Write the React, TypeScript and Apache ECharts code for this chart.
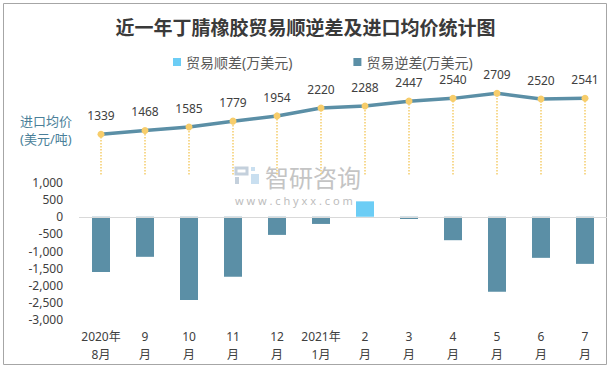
import React, { useEffect, useRef } from "react";
import * as echarts from "echarts";

const categories = [
  "2020年\n8月", "9\n月", "10\n月", "11\n月", "12\n月", "2021年\n1月",
  "2\n月", "3\n月", "4\n月", "5\n月", "6\n月", "7\n月",
];
const surplus: (number | null)[] = [null, null, null, null, null, null, 450, null, null, null, null, null];
const deficit: (number | null)[] = [-1610, -1170, -2430, -1755, -530, -210, null, -65, -685, -2190, -1200, -1376];
const importPrice = [1339, 1468, 1585, 1779, 1954, 2220, 2288, 2447, 2540, 2709, 2520, 2541];

const FONT = "'Noto Sans', 'Noto Sans CJK SC', sans-serif";
const CJK = "'Noto Sans CJK SC', sans-serif";

export default function App() {
  const ref = useRef<HTMLDivElement>(null);
  useEffect(() => {
    document.body.style.margin = "0";
    const chart = echarts.init(ref.current!, null, { renderer: "svg" });
    const gridL = 79;
    const gridR = 4;
    chart.setOption({
      animation: false,
      backgroundColor: "#ffffff",
      title: {
        text: "近一年丁腈橡胶贸易顺逆差及进口均价统计图",
        left: "center",
        top: 12,
        textStyle: { fontFamily: CJK, fontSize: 19, fontWeight: "bold", color: "#3a3a3a" },
      },
      legend: {
        data: ["贸易顺差(万美元)", "贸易逆差(万美元)"],
        left: 168,
        top: 50,
        itemWidth: 8,
        itemHeight: 8,
        itemGap: 61,
        icon: "rect",
        textStyle: { fontFamily: FONT, fontSize: 14, color: "#595959" },
      },
      grid: [
        { left: gridL, right: gridR, top: 182.5, height: 137 },
        { left: gridL, right: gridR, top: 84.6, height: 89.8 },
      ],
      xAxis: [
        {
          type: "category",
          gridIndex: 0,
          data: categories,
          axisLine: { show: false, onZero: false },
          axisTick: { show: false },
          axisLabel: {
            fontFamily: FONT,
            fontSize: 12,
            color: "#404040",
            lineHeight: 18,
            margin: 8,
            interval: 0,
          },
        },
        {
          type: "category",
          gridIndex: 1,
          data: categories,
          show: false,
        },
      ],
      yAxis: [
        {
          type: "value",
          gridIndex: 0,
          min: -3000,
          max: 1000,
          interval: 500,
          splitLine: { show: false },
          axisLine: { show: false },
          axisTick: { show: false },
          axisLabel: {
            margin: 16,
            fontFamily: FONT,
            fontSize: 12,
            color: "#404040",
            formatter: (v: number) => v.toLocaleString("en-US"),
          },
        },
        {
          type: "value",
          gridIndex: 1,
          min: 0,
          max: 3000,
          show: false,
        },
      ],
      series: [
        {
          name: "贸易顺差(万美元)",
          type: "bar",
          stack: "trade",
          xAxisIndex: 0,
          yAxisIndex: 0,
          data: surplus,
          barWidth: 18,
          itemStyle: { color: "#6ccdf5" },
        },
        {
          name: "贸易逆差(万美元)",
          type: "bar",
          stack: "trade",
          xAxisIndex: 0,
          yAxisIndex: 0,
          data: deficit,
          barWidth: 18,
          itemStyle: { color: "#5b8fa6" },
          markLine: {
            silent: true,
            symbol: "none",
            label: { show: false },
            lineStyle: { color: "#d9d9d9", width: 1, type: "solid" },
            data: [{ yAxis: 0 }],
          },
        },
        {
          name: "进口均价",
          type: "line",
          xAxisIndex: 1,
          yAxisIndex: 1,
          data: importPrice,
          symbol: "circle",
          symbolSize: 7,
          lineStyle: { color: "#5b8fa6", width: 3.5 },
          itemStyle: { color: "#f7cd6b" },
          z: 5,
          label: {
            show: true,
            position: "top",
            distance: 9,
            fontFamily: FONT,
            fontSize: 12,
            color: "#404040",
          },
          markLine: {
            silent: true,
            symbol: "none",
            label: { show: false },
            lineStyle: { color: "#f5cd6b", width: 1.5, type: "dotted" },
            data: importPrice.map((v, i) => [
              { coord: [i, 0] },
              { coord: [i, v] },
            ]),
          },
        },
      ],
      graphic: [
        {
          type: "rect",
          shape: { x: 3.5, y: 3.5, width: 603, height: 361 },
          style: { fill: "none", stroke: "#a6a6a6", lineWidth: 1 },
          z: -1,
        },
        {
          type: "text",
          style: { text: "进口均价", x: 20, y: 121, fill: "#4a7f99", fontSize: 13, fontFamily: FONT, verticalAlign: "middle" },
        },
        {
          type: "text",
          style: { text: "(美元/吨)", x: 20, y: 139, fill: "#4a7f99", fontSize: 13, fontFamily: FONT, verticalAlign: "middle" },
        },
        {
          type: "group",
          z: -1,
          children: [
            { type: "rect", shape: { x: 236, y: 168, width: 11, height: 6 }, style: { fill: "none", stroke: "#c4d0dc", lineWidth: 3 } },
            { type: "rect", shape: { x: 235, y: 177, width: 4, height: 7 }, style: { fill: "#c4d0dc" } },
            { type: "rect", shape: { x: 251, y: 167, width: 4, height: 4 }, style: { fill: "#c9dff0" } },
            { type: "rect", shape: { x: 251, y: 174, width: 8, height: 10 }, style: { fill: "#c9dff0" } },
            {
              type: "text",
              style: { text: "智研咨询", x: 265, y: 176, fill: "#c4c4c4", fontSize: 24, fontFamily: CJK, verticalAlign: "middle" },
            },
            {
              type: "text",
              style: { text: "w w w . c h y x x . c o m", x: 235, y: 200, fill: "#bdbdbd", fontSize: 11, fontFamily: FONT, verticalAlign: "middle" },
            },
          ],
        },
      ],
    });
    return () => chart.dispose();
  }, []);
  return (
    <div
      ref={ref}
      style={{ position: "fixed", left: 0, top: 0, width: 611, height: 370 }}
    />
  );
}
